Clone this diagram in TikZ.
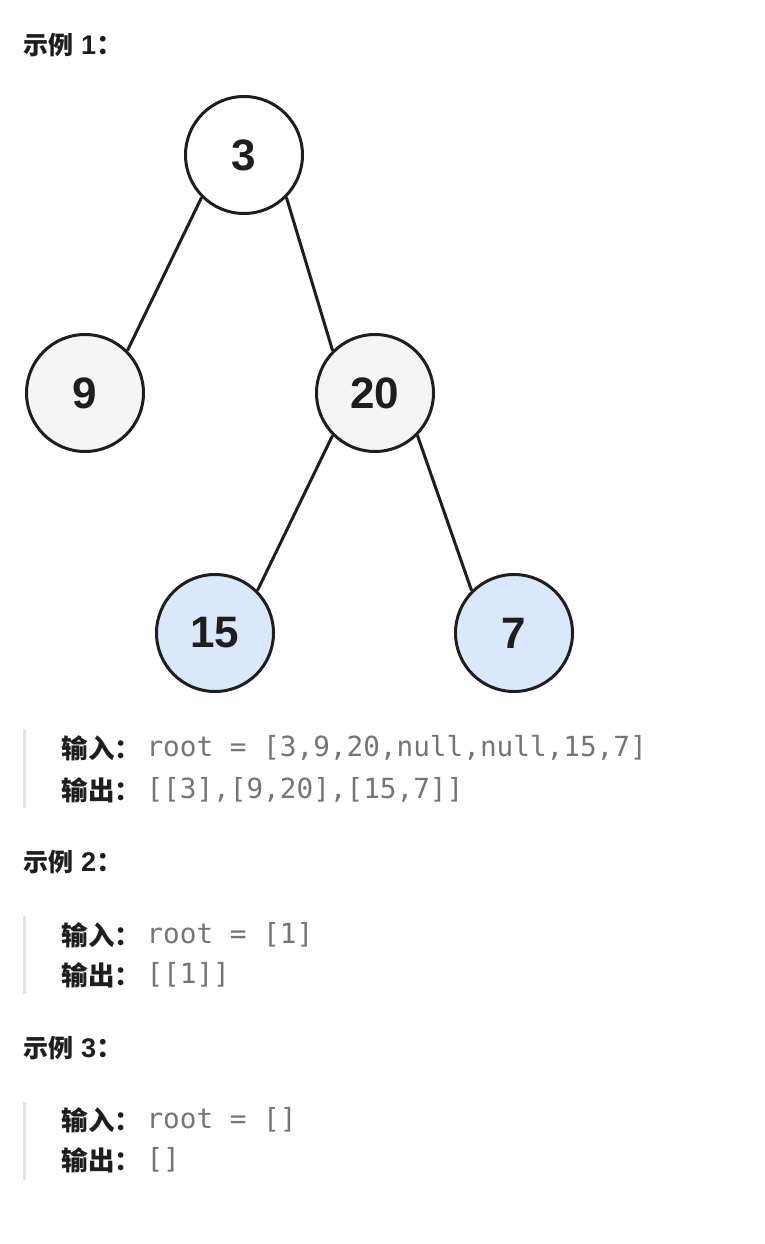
\documentclass[tikz,border=0pt]{standalone}
\usepackage{fontspec}
\setmainfont{Liberation Sans}
\setmonofont{DejaVu Sans Mono}
\newfontfamily\cjk{Noto Sans CJK SC}
\usepackage{xcolor}
\usetikzlibrary{positioning}
\definecolor{greyfill}{HTML}{F5F5F5}
\definecolor{bluefill}{HTML}{DAE8FC}
\definecolor{codegrey}{HTML}{757575}
\definecolor{quotebar}{HTML}{E3E3E3}
\definecolor{ink}{HTML}{1E1E1E}

\begin{document}
\begin{tikzpicture}[x=1pt, y=-1pt, line width=3pt,
  main/.style = {draw=ink, circle, minimum size=117pt, inner sep=0pt,
    font=\fontsize{44}{44}\selectfont\bfseries, text=ink},
  head/.style = {anchor=west, inner sep=0pt, text=ink,
    font=\fontsize{27}{27}\selectfont\bfseries},
  key/.style = {anchor=west, inner sep=0pt, text=ink,
    font=\cjk\fontsize{26.5}{26.5}\selectfont\bfseries},
  code/.style = {anchor=west, inner sep=0pt, text=codegrey,
    font=\ttfamily\fontsize{27.7}{27.7}\selectfont},
  bar/.style = {draw=quotebar, line width=3pt}]
\useasboundingbox[fill=white] (0,0) rectangle (764,1244);
% example 1
\node[head] (h1) at (22,45) {{\cjk\fontsize{25}{25}\selectfont 示例} 1{\cjk ：}};
\node[main, fill=white] (n3) at (244,155) {3};
\node[main, fill=greyfill] (n9) at (85,393) {9};
\node[main, fill=greyfill] (n20) at (375,393) {20};
\node[main, fill=bluefill] (n15) at (215,633) {15};
\node[main, fill=bluefill] (n7) at (514,633) {7};
\draw[ink] (n3.south west) -- (n9.north east);
\draw[ink] (n3.south east) -- (n20.north west);
\draw[ink] (n20.south west) -- (n15.north east);
\draw[ink] (n20.south east) -- (n7.north west);
\coordinate (b1top) at (24,729);
\coordinate (b1bot) at (24,808);
\draw[bar] (b1top) -- (b1bot);
\node[key] (in1) at (60,748) {输入：};
\node[code] (in1v) at (145,748) {root = [3,9,20,null,null,15,7]};
\node[key] (out1) at (60,790) {输出：};
\node[code] (out1v) at (145,790) {[[3],[9,20],[15,7]]};
% example 2
\node[head] (h2) at (22,862) {{\cjk\fontsize{25}{25}\selectfont 示例} 2{\cjk ：}};
\coordinate (b2top) at (24,916);
\coordinate (b2bot) at (24,994);
\draw[bar] (b2top) -- (b2bot);
\node[key] (in2) at (60,935) {输入：};
\node[code] (in2v) at (145,935) {root = [1]};
\node[key] (out2) at (60,975) {输出：};
\node[code] (out2v) at (145,975) {[[1]]};
% example 3
\node[head] (h3) at (22,1048) {{\cjk\fontsize{25}{25}\selectfont 示例} 3{\cjk ：}};
\coordinate (b3top) at (24,1102);
\coordinate (b3bot) at (24,1180);
\draw[bar] (b3top) -- (b3bot);
\node[key] (in3) at (60,1120) {输入：};
\node[code] (in3v) at (145,1120) {root = []};
\node[key] (out3) at (60,1160) {输出：};
\node[code] (out3v) at (145,1160) {[]};
\end{tikzpicture}
\end{document}
